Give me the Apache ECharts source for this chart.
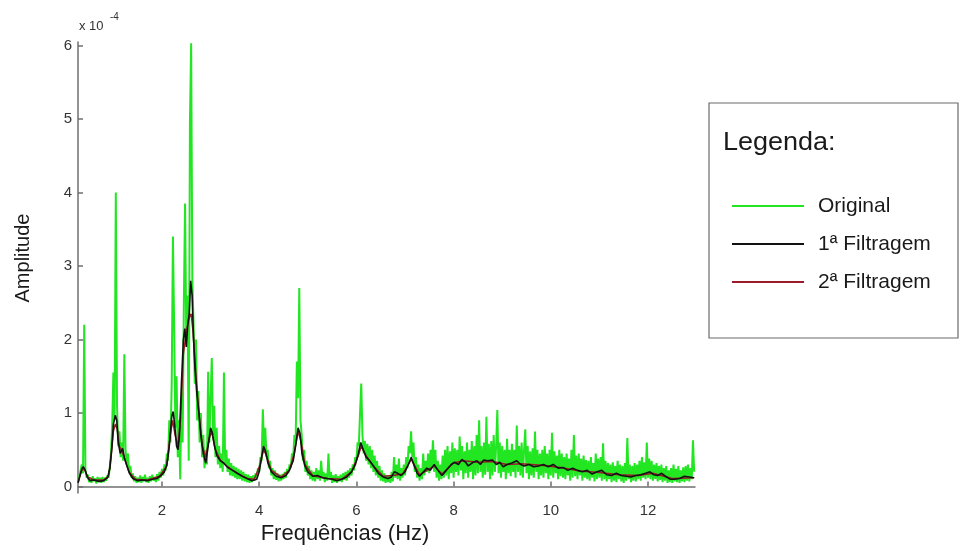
<!DOCTYPE html>
<html><head><meta charset="utf-8">
<script src="https://cdn.jsdelivr.net/npm/echarts@6/dist/echarts.min.js"></script>
<style>html,body{margin:0;padding:0;background:#fff}#c{width:960px;height:551px}</style>
</head><body><div id="c"></div>
<script>
// ---- tick labels ----
const xTicks = [2, 4, 6, 8, 10, 12];
const yTicks = [0, 1, 2, 3, 4, 5, 6];
const seriesNames = ['Original', '1ª Filtragem', '2ª Filtragem'];

// ---- Original spectrum (amplitude x 1e-4), one value per 0.025 Hz from 0.275 Hz ----
const originalStartHz = 0.275;
const originalStepHz = 0.025;
const originalAmp = [
  0.08,0.14,0.22,0.30,0.18,2.2,0.22,0.12,0.16,0.06,0.12,0.05,0.14,0.07,0.11,0.04,0.13,0.06,0.12,0.05,
  0.13,0.06,0.12,0.08,0.15,0.12,0.25,0.45,0.8,1.55,0.9,4.0,1.1,0.55,0.75,0.4,0.6,0.35,1.8,0.5,
  0.3,0.45,0.2,0.28,0.12,0.18,0.07,0.14,0.05,0.12,0.06,0.15,0.05,0.13,0.07,0.16,0.06,0.12,0.05,0.14,
  0.07,0.16,0.08,0.13,0.06,0.17,0.08,0.2,0.12,0.24,0.15,0.3,0.22,0.45,0.35,0.9,0.6,1.4,3.4,2.2,
  0.8,1.5,0.4,0.9,0.1,1.2,0.6,2.5,3.85,2.0,2.6,0.35,4.95,6.03,2.8,2.2,1.4,2.0,0.9,1.3,
  0.6,1.0,0.4,0.7,0.25,0.5,0.3,1.56,0.6,1.2,1.75,0.7,1.1,0.4,0.8,0.3,0.55,0.25,0.45,0.2,
  1.55,0.3,0.5,0.2,0.38,0.15,0.32,0.14,0.28,0.12,0.26,0.1,0.24,0.1,0.22,0.08,0.2,0.07,0.17,0.06,
  0.16,0.05,0.14,0.06,0.15,0.08,0.18,0.12,0.25,0.2,0.4,0.35,1.05,0.55,0.8,0.4,0.5,0.25,0.35,0.15,
  0.25,0.1,0.22,0.09,0.18,0.07,0.16,0.08,0.17,0.1,0.2,0.12,0.24,0.18,0.3,0.25,0.45,0.4,0.7,0.6,
  1.7,1.2,2.7,0.9,0.7,0.35,0.5,0.2,0.35,0.15,0.28,0.1,0.22,0.08,0.2,0.07,0.25,0.1,0.22,0.08,
  0.35,0.12,0.2,0.06,0.18,0.08,0.45,0.1,0.2,0.05,0.15,0.06,0.17,0.05,0.14,0.07,0.16,0.06,0.18,0.09,
  0.2,0.08,0.22,0.12,0.25,0.15,0.3,0.22,0.4,0.35,0.6,0.55,1.0,1.4,0.7,0.45,0.62,0.35,0.58,0.3,
  0.55,0.25,0.5,0.2,0.42,0.15,0.35,0.12,0.28,0.08,0.22,0.07,0.18,0.05,0.15,0.06,0.14,0.05,0.2,0.07,
  0.4,0.12,0.3,0.1,0.38,0.08,0.25,0.12,0.3,0.15,0.4,0.25,0.55,0.45,0.75,0.4,0.6,0.2,0.4,0.12,
  0.3,0.08,0.25,0.1,0.45,0.15,0.35,0.2,0.45,0.18,0.5,0.25,0.63,0.2,0.5,0.12,0.35,0.08,0.3,0.1,
  0.42,0.12,0.5,0.15,0.55,0.1,0.48,0.18,0.6,0.12,0.52,0.2,0.5,0.15,0.68,0.22,0.55,0.1,0.48,0.18,
  0.6,0.12,0.5,0.2,0.62,0.1,0.55,0.15,0.7,0.18,0.9,0.2,0.55,0.12,0.6,0.16,0.95,0.2,0.58,0.1,
  0.62,0.15,0.7,0.2,0.55,1.04,0.18,0.6,0.12,0.55,0.2,0.5,0.1,0.65,0.18,0.5,0.14,0.58,0.2,0.5,
  0.12,0.83,0.2,0.55,0.15,0.6,0.12,0.5,0.78,0.18,0.55,0.1,0.48,0.15,0.52,0.12,0.75,0.2,0.5,0.1,
  0.45,0.15,0.5,0.12,0.55,0.18,0.45,0.1,0.5,0.15,0.73,0.12,0.48,0.18,0.42,0.1,0.5,0.14,0.45,0.12,
  0.4,0.1,0.45,0.15,0.38,0.08,0.5,0.12,0.7,0.14,0.42,0.1,0.45,0.15,0.38,0.08,0.42,0.12,0.36,0.1,
  0.35,0.08,0.4,0.12,0.32,0.07,0.45,0.1,0.38,0.12,0.4,0.08,0.59,0.1,0.35,0.07,0.32,0.1,0.3,0.06,
  0.33,0.08,0.28,0.06,0.35,0.1,0.3,0.07,0.28,0.05,0.32,0.08,0.66,0.1,0.3,0.06,0.28,0.08,0.32,0.07,
  0.3,0.1,0.35,0.08,0.4,0.12,0.33,0.1,0.6,0.12,0.38,0.1,0.35,0.08,0.3,0.1,0.32,0.07,0.28,0.09,
  0.3,0.06,0.25,0.08,0.28,0.05,0.22,0.06,0.25,0.05,0.3,0.07,0.24,0.06,0.28,0.05,0.22,0.07,0.26,0.06,
  0.28,0.08,0.3,0.07,0.25,0.1,0.63,0.2
];

// ---- 1ª Filtragem ----
const filt1Freq = [0.275,0.30,0.35,0.38,0.42,0.47,0.52,0.6,0.7,0.8,0.88,0.93,0.97,1.0,1.04,1.07,1.1,1.14,1.19,1.23,
  1.28,1.33,1.4,1.5,1.6,1.7,1.8,1.9,1.98,2.05,2.1,2.15,2.2,2.23,2.26,2.3,2.33,2.36,2.4,2.44,
  2.47,2.5,2.53,2.56,2.59,2.62,2.65,2.68,2.72,2.76,2.8,2.85,2.9,2.95,3.0,3.04,3.08,3.13,3.2,3.27,
  3.35,3.45,3.55,3.65,3.75,3.85,3.95,4.0,4.05,4.09,4.13,4.18,4.25,4.35,4.45,4.55,4.62,4.7,4.76,4.8,
  4.84,4.88,4.94,5.0,5.1,5.2,5.3,5.4,5.5,5.6,5.7,5.8,5.9,5.98,6.04,6.09,6.14,6.2,6.27,6.35,
  6.45,6.55,6.65,6.72,6.78,6.85,6.92,7.0,7.07,7.13,7.18,7.25,7.3,7.38,7.45,7.52,7.6,7.68,7.76,7.85,
  7.95,8.02,8.1,8.17,8.25,8.3,8.4,8.48,8.55,8.62,8.7,8.8,8.88,8.95,9.02,9.1,9.2,9.3,9.38,9.45,
  9.55,9.65,9.75,9.85,9.95,10.05,10.15,10.25,10.35,10.45,10.55,10.65,10.75,10.85,10.95,11.05,11.15,11.25,11.35,11.45,
  11.55,11.65,11.75,11.85,11.95,12.04,12.12,12.2,12.28,12.36,12.45,12.55,12.65,12.75,12.85,12.95];
const filt1Amp = [0.05,0.12,0.24,0.27,0.22,0.12,0.08,0.09,0.07,0.08,0.12,0.25,0.55,0.85,0.97,0.9,0.6,0.45,0.52,0.38,
  0.28,0.18,0.11,0.08,0.09,0.08,0.1,0.11,0.15,0.2,0.3,0.55,0.95,1.02,0.85,0.55,0.5,0.7,1.4,2.0,
  2.15,1.9,2.2,2.35,2.8,2.6,2.0,1.6,1.25,1.0,0.7,0.45,0.32,0.55,0.8,0.72,0.55,0.42,0.35,0.32,
  0.26,0.22,0.18,0.14,0.11,0.08,0.1,0.2,0.4,0.55,0.48,0.32,0.2,0.14,0.12,0.15,0.22,0.35,0.6,0.8,
  0.72,0.45,0.28,0.2,0.14,0.15,0.12,0.11,0.1,0.08,0.1,0.13,0.2,0.3,0.45,0.6,0.5,0.4,0.35,0.28,
  0.18,0.13,0.11,0.13,0.2,0.18,0.15,0.2,0.3,0.4,0.3,0.18,0.14,0.2,0.25,0.22,0.3,0.22,0.15,0.22,
  0.3,0.33,0.3,0.37,0.33,0.28,0.33,0.35,0.3,0.36,0.35,0.36,0.3,0.33,0.27,0.3,0.32,0.35,0.3,0.28,
  0.3,0.27,0.28,0.3,0.27,0.3,0.25,0.26,0.22,0.25,0.22,0.2,0.22,0.17,0.2,0.22,0.16,0.15,0.18,0.15,
  0.14,0.13,0.15,0.16,0.18,0.2,0.16,0.15,0.18,0.14,0.1,0.1,0.11,0.14,0.13,0.12];

// ---- 2ª Filtragem ----
const filt2Freq = [0.275,0.35,0.4,0.47,0.6,0.8,0.9,0.96,1.0,1.04,1.08,1.12,1.18,1.24,1.32,1.45,1.7,1.95,2.1,2.17,
  2.22,2.27,2.33,2.38,2.44,2.5,2.56,2.6,2.64,2.7,2.76,2.83,2.9,2.97,3.02,3.1,3.2,3.35,3.55,3.75,
  3.9,4.02,4.09,4.15,4.25,4.45,4.62,4.72,4.8,4.86,4.94,5.1,5.4,5.7,5.9,6.04,6.1,6.2,6.35,6.55,
  6.75,6.95,7.13,7.3,7.6,7.76,8.0,8.2,8.5,8.8,9.1,9.4,9.8,10.2,10.6,11.0,11.4,11.8,12.1,12.5,12.95];
const filt2Amp = [0.06,0.22,0.25,0.13,0.09,0.09,0.14,0.45,0.75,0.85,0.78,0.55,0.48,0.36,0.2,0.1,0.09,0.14,0.28,0.7,
  0.9,0.7,0.55,0.9,1.8,2.1,2.3,2.35,2.1,1.5,1.0,0.55,0.4,0.65,0.75,0.5,0.36,0.27,0.18,0.11,
  0.1,0.3,0.5,0.42,0.22,0.13,0.22,0.45,0.75,0.62,0.3,0.15,0.11,0.1,0.2,0.42,0.55,0.42,0.28,0.14,
  0.15,0.17,0.37,0.16,0.28,0.17,0.32,0.35,0.33,0.34,0.3,0.31,0.29,0.26,0.21,0.19,0.16,0.15,0.18,0.11,0.12];

const FONT = '"Liberation Sans", Arial, sans-serif';
const originalData = originalAmp.map((v, i) => [+(originalStartHz + i * originalStepHz).toFixed(3), v]);
const filt1Data = filt1Freq.map((f, i) => [f, filt1Amp[i]]);
const filt2Data = filt2Freq.map((f, i) => [f, filt2Amp[i]]);

const chart = echarts.init(document.getElementById('c'), null, {renderer: 'canvas'});
const axisGray = '#6f6f6f';
chart.setOption({
  animation: false,
  backgroundColor: '#ffffff',
  grid: {left: 78, right: 265, top: 42, bottom: 58, containLabel: false},
  xAxis: {
    type: 'value', min: 0.272, max: 12.967,
    name: 'Frequências (Hz)', nameLocation: 'middle', nameGap: 30,
    nameTextStyle: {fontFamily: FONT, fontSize: 22, color: '#1a1a1a', padding: [0, 83, 0, 0]},
    axisLine: {show: true, lineStyle: {color: axisGray, width: 1.5}},
    axisTick: {show: true, inside: true, length: 5, customValues: xTicks, lineStyle: {color: axisGray, width: 1.5}},
    axisLabel: {customValues: xTicks, margin: 10, fontFamily: FONT, fontSize: 15, color: '#333'},
    splitLine: {show: false}
  },
  yAxis: {
    type: 'value', min: -0.088, max: 6.048,
    name: 'Amplitude', nameLocation: 'middle', nameGap: 45,
    nameTextStyle: {fontFamily: FONT, fontSize: 20, color: '#1a1a1a', padding: [0, 0, 0, 19]},
    axisLine: {show: true, lineStyle: {color: axisGray, width: 1.5}},
    axisTick: {show: true, inside: true, length: 5, customValues: yTicks, lineStyle: {color: axisGray, width: 1.5}},
    axisLabel: {customValues: yTicks, margin: 6, fontFamily: FONT, fontSize: 15, color: '#333'},
    splitLine: {show: false}
  },
  legend: {
    show: true, orient: 'vertical', left: 732, top: 195, padding: 0,
    data: seriesNames, icon: 'rect', itemWidth: 72, itemHeight: 2, itemGap: 16,
    textStyle: {fontFamily: FONT, fontSize: 21, color: '#1a1a1a', lineHeight: 22, padding: [0, 0, 0, 9]},
    selectedMode: false
  },
  graphic: [
    {type: 'rect', shape: {x: 709, y: 103, width: 249, height: 235}, style: {fill: 'none', stroke: '#6a6a6a', lineWidth: 1.2}, z: 10},
    {type: 'text', x: 723, y: 143, scaleX: 1.08, style: {text: 'Legenda:', fontFamily: FONT, fontSize: 25, fill: '#1a1a1a', verticalAlign: 'middle'}, z: 10},
    {type: 'text', x: 79, y: 33, style: {text: 'x 10', fontFamily: FONT, fontSize: 13, fill: '#333', verticalAlign: 'bottom'}, z: 10},
    {type: 'text', x: 110, y: 22, style: {text: '-4', fontFamily: FONT, fontSize: 10, fill: '#333', verticalAlign: 'bottom'}, z: 10}
  ],
  series: [
    {name: seriesNames[0], type: 'line', data: originalData, showSymbol: false, symbol: 'none', sampling: null,
     color: '#22e622', lineStyle: {color: '#22e622', width: 2}, z: 2, clip: true},
    {name: seriesNames[1], type: 'line', data: filt1Data, showSymbol: false, symbol: 'none',
     color: '#111111', lineStyle: {color: '#111111', width: 1.6}, z: 4, clip: true},
    {name: seriesNames[2], type: 'line', data: filt2Data, showSymbol: false, symbol: 'none',
     color: '#9b1b2a', lineStyle: {color: '#9b1b2a', width: 1.5}, z: 3, clip: true}
  ]
});
</script></body></html>
